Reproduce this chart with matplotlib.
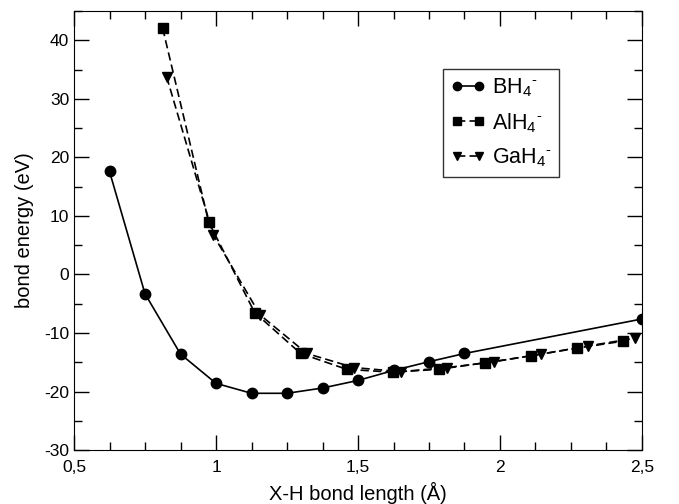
import matplotlib
matplotlib.use("Agg")
import matplotlib.pyplot as plt
from matplotlib.ticker import MultipleLocator, FuncFormatter

plt.rcParams['font.family'] = ['Liberation Sans', 'DejaVu Sans']
plt.rcParams['mathtext.fontset'] = 'custom'
plt.rcParams['mathtext.rm'] = 'Liberation Sans'
plt.rcParams['mathtext.it'] = 'Liberation Sans'
plt.rcParams['axes.unicode_minus'] = False

bh4_x = [0.625, 0.75, 0.875, 1.0, 1.125, 1.25, 1.375, 1.5, 1.625, 1.75, 1.875, 2.5]
bh4_y = [17.6, -3.3, -13.6, -18.6, -20.3, -20.3, -19.4, -18.1, -16.4, -14.9, -13.5, -7.6]

alh4_x = [0.812, 0.974, 1.136, 1.298, 1.46, 1.622, 1.784, 1.946, 2.108, 2.27, 2.432]
alh4_y = [42.1, 9.0, -6.5, -13.5, -16.2, -16.7, -16.2, -15.1, -13.9, -12.6, -11.4]

gah4_x = [0.826, 0.99, 1.155, 1.32, 1.485, 1.65, 1.815, 1.98, 2.145, 2.31, 2.475]
gah4_y = [33.8, 6.8, -6.9, -13.5, -15.9, -16.6, -15.9, -14.9, -13.6, -12.2, -10.9]

fig = plt.figure(figsize=(6.79, 5.04), dpi=100)
ax = fig.add_axes([0.109, 0.107, 0.8365, 0.871])

dash = (0, (5, 2.5))
ax.plot(bh4_x, bh4_y, color="black", linestyle="-", linewidth=1.2,
        marker="o", markersize=7.5, label=r"BH$_4{}^{\text{-}}$")
ax.plot(alh4_x, alh4_y, color="black", linestyle=dash, linewidth=1.2,
        marker="s", markersize=6.5, label=r"AlH$_4{}^{\text{-}}$")
ax.plot(gah4_x, gah4_y, color="black", linestyle=dash, linewidth=1.2,
        marker="v", markersize=7.5, label=r"GaH$_4{}^{\text{-}}$")

ax.set_xlim(0.5, 2.5)
ax.set_ylim(-30, 45)
ax.xaxis.set_major_locator(MultipleLocator(0.5))
ax.xaxis.set_minor_locator(MultipleLocator(0.125))
ax.yaxis.set_major_locator(MultipleLocator(10))
ax.yaxis.set_minor_locator(MultipleLocator(5))


def comma(v, pos):
    s = "%g" % v
    return s.replace(".", ",")


ax.xaxis.set_major_formatter(FuncFormatter(comma))
ax.tick_params(which="both", direction="in", top=True, right=True, labelsize=12.5)
ax.tick_params(which="major", length=11, width=1)
ax.tick_params(which="minor", length=6, width=1)
ax.tick_params(axis="x", pad=7)

ax.set_xlabel("X-H bond length (Å)", fontsize=14.5, labelpad=5)
ax.set_ylabel("bond energy (eV)", fontsize=14.5, labelpad=7)

leg = ax.legend(loc="upper left", bbox_to_anchor=(0.65, 0.868), numpoints=2,
                fontsize=15.5, frameon=True, fancybox=False, handlelength=1.6,
                handletextpad=0.3, borderpad=0.35, labelspacing=0.55,
                markerscale=0.8, borderaxespad=0)
leg.get_frame().set_edgecolor("black")
leg.get_frame().set_linewidth(1.0)

fig.savefig("out.png", dpi=100)
